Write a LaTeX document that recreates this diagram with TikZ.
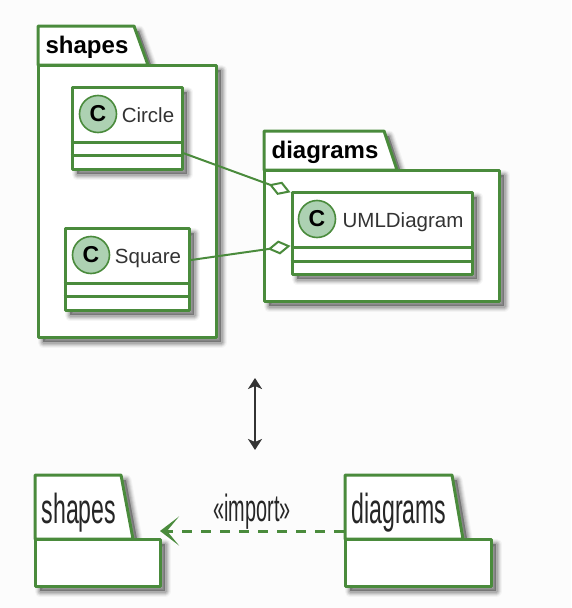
\documentclass[tikz,border=0pt]{standalone}
\usepackage{fontspec}
\setmainfont{Liberation Sans}
\usetikzlibrary{arrows.meta}
\definecolor{umlgreen}{HTML}{4A8B3C}
\definecolor{iconfill}{HTML}{ADD1B2}
\newcommand{\softshadow}[1]{\foreach \w/\o in {11/.035,9/.05,7/.07,5/.09,3/.1}{\path[fill=black,draw=black,draw opacity=\o,fill opacity=\o,line width=\w pt,line join=round,xshift=5pt,yshift=-5pt] #1;}}
\tikzset{
  pkgshape/.style={draw=umlgreen,fill=white,line width=3pt,line join=round},
  clsbox/.style={draw=umlgreen,fill=white,line width=3pt,inner sep=0pt,line join=round},
  divider/.style={draw=umlgreen,line width=3pt},
  iconC/.style={circle,draw=umlgreen,fill=iconfill,line width=1.6pt,minimum size=37pt,inner sep=0pt,font=\fontsize{23}{23}\selectfont\bfseries},
  clstext/.style={anchor=base,inner sep=0pt,font=\fontsize{20.5}{24}\selectfont,text=black!80},
  pkgbold/.style={anchor=base,inner sep=0pt,font=\fontsize{24}{28}\selectfont\bfseries},
  narrowtext/.style={anchor=base,inner sep=0pt,xscale=.55,transform shape,font=\fontsize{42}{46}\selectfont,text=black!85},
  assoc/.style={draw=umlgreen,line width=2pt,{Diamond[length=23pt,width=14pt,fill=white,line width=2pt]}-},
  importline/.style={draw=umlgreen,line width=3pt,dash pattern=on 10pt off 9pt,-{Stealth[length=19pt,width=29pt,inset=12pt,fill=umlgreen]}},
  biarrow/.style={draw=black!80,line width=2.2pt,{Stealth[length=11pt,width=14pt,inset=3pt]}-{Stealth[length=11pt,width=14pt,inset=3pt]}}
}
\begin{document}
\begin{tikzpicture}[x=1pt,y=-1pt]
\useasboundingbox (0,0) rectangle (571,608);
\fill[white!99!black] (0,0) rectangle (571,608);
% upper shapes package
\softshadow{(38,65) -- (38,26) -- (134,26) -- (148,65) -- cycle}
\softshadow{(38,65) rectangle (216,337)}
\path[pkgshape] (38,65) -- (38,26) -- (134,26) -- (148,65) -- cycle;
\node[pkgshape,inner sep=0pt,minimum width=178pt,minimum height=272pt] (shapesBody) at (127,201) {};
\node[pkgbold] (shapesTitle) at (87,53) {shapes};
% upper diagrams package
\softshadow{(264,170) -- (264,131) -- (384,131) -- (397,170) -- cycle}
\softshadow{(264,170) rectangle (499,301)}
\path[pkgshape] (264,170) -- (264,131) -- (384,131) -- (397,170) -- cycle;
\node[pkgshape,inner sep=0pt,minimum width=235pt,minimum height=131pt] (diagramsBody) at (381.5,235.5) {};
\node[pkgbold] (diagramsTitle) at (325,158) {diagrams};
% classes
\softshadow{(72,87) rectangle (182,169)}
\node[clsbox,minimum width=110pt,minimum height=82pt] (circleCls) at (127,128) {};
\draw[divider] (circleCls.west |- 0,142) -- (circleCls.east |- 0,142);
\draw[divider] (circleCls.west |- 0,155) -- (circleCls.east |- 0,155);
\node[iconC] (circleIcon) at (98,114) {C};
\node[clstext] (circleName) at (148,122) {Circle};
\softshadow{(65,228) rectangle (189,310)}
\node[clsbox,minimum width=124pt,minimum height=82pt] (squareCls) at (127,269) {};
\draw[divider] (squareCls.west |- 0,283) -- (squareCls.east |- 0,283);
\draw[divider] (squareCls.west |- 0,296) -- (squareCls.east |- 0,296);
\node[iconC] (squareIcon) at (91,255) {C};
\node[clstext] (squareName) at (148,263) {Square};
\softshadow{(292,192) rectangle (472,274)}
\node[clsbox,minimum width=180pt,minimum height=82pt] (umlCls) at (382,233) {};
\draw[divider] (umlCls.west |- 0,247) -- (umlCls.east |- 0,247);
\draw[divider] (umlCls.west |- 0,261) -- (umlCls.east |- 0,261);
\node[iconC] (umlIcon) at (317,219) {C};
\node[clstext] (umlName) at (403,227) {UMLDiagram};
% associations
\draw[assoc] (umlCls.156.6) -- (circleCls.-24.4);
\draw[assoc] (umlCls.188.2) -- (squareCls.8.3);
% double arrow
\coordinate (biTop) at (255,378);
\coordinate (biBottom) at (255,450);
\draw[biarrow] (biTop) -- (biBottom);
% lower packages
\softshadow{(35,539) -- (35,475) -- (121,475) -- (133,539) -- cycle}
\softshadow{(35,539) rectangle (160,586)}
\path[pkgshape] (35,539) -- (35,475) -- (121,475) -- (133,539) -- cycle;
\node[pkgshape,inner sep=0pt,minimum width=125pt,minimum height=47pt] (shapesLow) at (97.5,562.5) {};
\node[narrowtext] (shapesLowName) at (79,523) {shapes};
\softshadow{(345,539) -- (345,475) -- (452,475) -- (463,539) -- cycle}
\softshadow{(345,539) rectangle (491,586)}
\path[pkgshape] (345,539) -- (345,475) -- (452,475) -- (463,539) -- cycle;
\node[pkgshape,inner sep=0pt,minimum width=146pt,minimum height=47pt] (diagramsLow) at (418,562.5) {};
\node[narrowtext] (diagramsLowName) at (399,523) {diagrams};
\coordinate (importEnd) at (160,531);
\draw[importline] (diagramsLow.west |- importEnd) -- (importEnd);
\node[narrowtext,font=\fontsize{38}{42}\selectfont,xscale=.95] (importLabel) at (252,521) {«import»};
\end{tikzpicture}
\end{document}
